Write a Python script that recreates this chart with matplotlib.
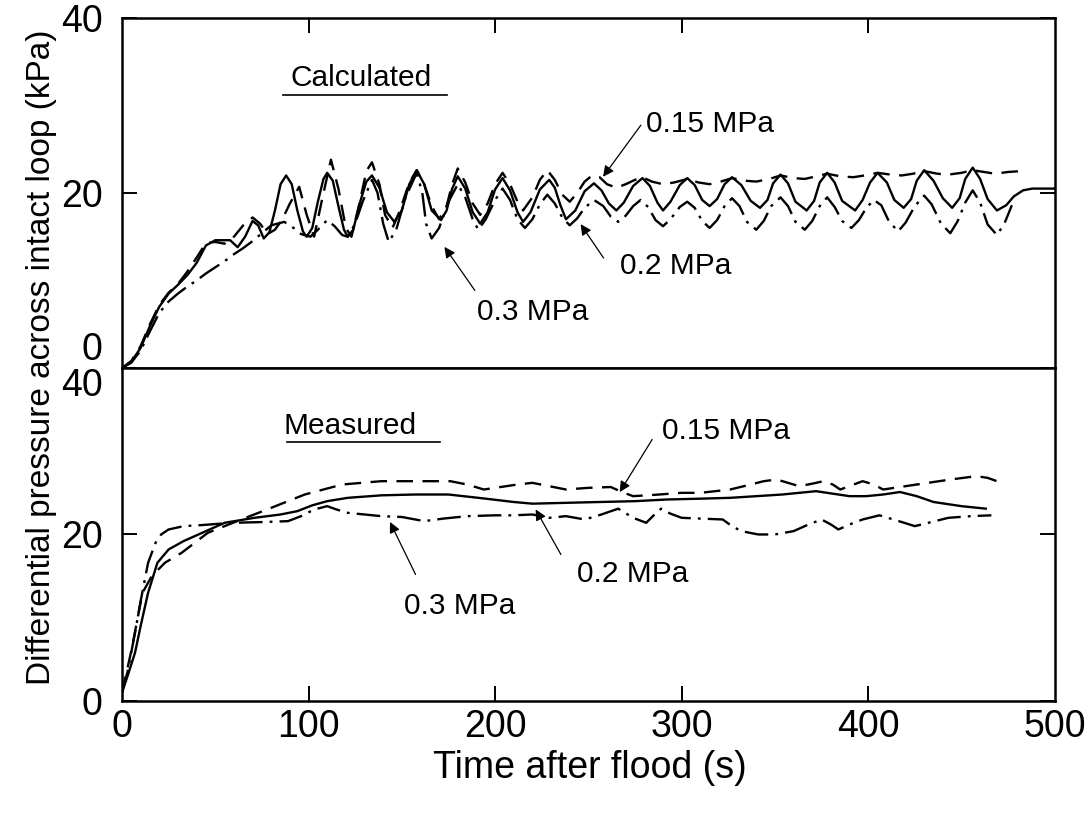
import matplotlib
matplotlib.use("Agg")
import matplotlib.pyplot as plt

plt.rcParams['font.family'] = ['Liberation Sans', 'DejaVu Sans']

# ---- Calculated (top panel) ----
calc_t_02 = [0, 5, 10, 15, 20, 25, 30, 35, 40, 45, 50, 58, 62, 66, 70, 73, 76, 79, 82, 85, 88, 91, 94, 97, 99,
             102, 105, 108, 110, 113, 116, 119, 121, 124, 127, 131, 134, 138, 142, 146, 150, 154, 158, 162, 166,
             171, 174, 177, 180, 184, 188, 192, 196, 200, 204, 208, 212, 215, 219, 224, 229, 232, 235, 238, 243,
             248, 253, 257, 261, 265, 269, 274, 279, 283, 287, 290, 294, 299, 303, 307, 311, 315, 319, 323, 327,
             332, 337, 342, 346, 349, 353, 357, 361, 367, 371, 374, 378, 382, 386, 393, 397, 401, 405, 410, 414,
             419, 423, 426, 430, 435, 440, 445, 449, 452, 456, 460, 464, 469, 474, 478, 483, 488, 500]
calc_v_02 = [0, 0.7, 2.3, 4.8, 7.0, 8.5, 9.5, 10.6, 12.0, 14.0, 14.6, 14.6, 13.8, 15.0, 16.8, 16.3, 14.8, 15.5, 18.0, 21.0, 22.0, 21.0, 18.0, 15.6, 15.0,
             16.0, 19.0, 21.6, 22.3, 21.4, 18.5, 15.8, 15.0, 15.8, 18.5, 21.3, 22.0, 20.6, 17.8, 16.7, 18.0, 21.0, 22.6, 21.0, 18.0,
             16.9, 18.0, 20.5, 21.9, 20.5, 17.8, 16.5, 17.8, 20.4, 21.7, 20.3, 17.8, 16.7, 17.8, 20.4, 21.5, 20.6, 18.6, 17.0, 18.0,
             20.2, 21.1, 20.3, 18.8, 18.0, 18.9, 20.8, 21.7, 20.8, 18.9, 18.0, 19.0, 20.9, 21.7, 20.9, 19.2, 18.5, 19.3, 21.0, 21.8,
             20.9, 19.1, 18.3, 19.2, 21.1, 22.1, 21.1, 19.0, 18.0, 19.1, 21.2, 22.3, 21.2, 19.1, 18.0, 19.2, 21.2, 22.3, 21.2, 19.2,
             18.3, 19.3, 21.4, 22.6, 21.4, 19.4, 18.3, 19.4, 21.6, 22.9, 21.6, 19.3, 18.0, 18.6, 19.6, 20.3, 20.5, 20.5]

calc_t_03 = [0, 5, 10, 15, 20, 25, 30, 35, 40, 45, 50, 55, 60, 65, 70, 75, 80, 87, 92, 96, 101, 105, 110, 114, 118,
             121, 125, 129, 134, 137, 140, 143, 147, 152, 158, 161, 163, 166, 170, 175, 180, 184, 188, 191, 195,
             200, 204, 208, 212, 216, 220, 224, 228, 232, 236, 240, 244, 248, 253, 258, 262, 266, 270, 274, 278,
             282, 286, 290, 294, 299, 303, 307, 311, 315, 319, 323, 327, 331, 335, 340, 344, 348, 353, 357, 361,
             366, 370, 374, 378, 382, 386, 391, 395, 399, 403, 407, 411, 416, 420, 425, 430, 434, 439, 444, 448,
             452, 456, 460, 464, 469, 473, 477]
calc_v_03 = [0, 0.6, 2.0, 4.2, 6.3, 7.6, 8.5, 9.3, 10.0, 10.8, 11.5, 12.2, 13.0, 13.7, 14.5, 15.4, 16.3, 16.7, 16.0, 15.3, 15.0, 15.8, 16.9, 16.2, 15.2,
             15.0, 16.5, 19.0, 21.5, 20.0, 16.5, 14.4, 15.8, 19.5, 22.3, 20.0, 16.5, 14.8, 16.0, 19.0, 21.0, 19.5, 17.0, 15.8, 17.0,
             19.2, 20.5, 19.2, 17.0, 16.0, 17.0, 18.7, 19.8, 18.8, 17.2, 16.3, 17.1, 18.3, 19.2, 18.5, 17.3, 16.7, 17.4, 18.5, 19.2,
             18.4, 16.9, 16.2, 17.0, 18.4, 19.0, 18.3, 16.8, 16.0, 16.9, 18.5, 19.4, 18.5, 16.7, 15.8, 16.8, 18.5, 19.5, 18.5, 16.7,
             15.8, 16.8, 18.5, 19.5, 18.4, 16.8, 16.0, 16.9, 18.3, 19.2, 18.6, 16.8, 15.6, 16.6, 18.5, 19.7, 18.7, 16.5, 15.4, 16.8,
             18.9, 20.3, 18.9, 16.4, 15.2, 16.5, 18.6]

calc_t_015 = [0, 5, 10, 15, 20, 25, 30, 35, 40, 45, 50, 55, 60, 65, 70, 74, 78, 82, 86, 90, 95, 99, 103, 107, 112,
              116, 120, 123, 127, 131, 134, 138, 141, 145, 149, 154, 158, 162, 166, 170, 174, 177, 180, 184, 188,
              192, 196, 200, 204, 208, 212, 215, 220, 224, 228, 232, 236, 240, 244, 248, 252, 256, 260, 265, 270,
              275, 279, 284, 290, 296, 303, 309, 315, 321, 327, 334, 340, 347, 353, 360, 366, 372, 378, 385, 392,
              398, 405, 412, 418, 424, 430, 437, 443, 450, 456, 462, 468, 475, 482]
calc_v_015 = [0, 0.8, 2.5, 5.0, 7.2, 8.6, 9.6, 11.0, 12.6, 14.3, 14.4, 14.2, 15.0, 16.3, 17.2, 16.5, 15.3, 15.8, 17.0, 18.8, 20.7, 17.5, 15.0, 19.0, 23.8,
              20.5, 16.0, 15.0, 18.5, 22.5, 23.5, 21.0, 17.5, 16.0, 18.0, 21.2, 22.6, 21.0, 18.5, 17.0, 18.5, 21.0, 22.8, 21.2, 18.8,
              17.5, 18.8, 21.0, 22.3, 21.0, 19.0, 18.0, 19.5, 21.5, 22.6, 21.5, 19.8, 19.0, 20.0, 21.3, 22.0, 21.8, 21.0, 20.6, 21.0,
              21.5, 21.8, 21.3, 21.0, 21.2, 21.6, 21.2, 21.0, 21.3, 21.7, 21.4, 21.3, 21.6, 22.0, 21.7, 21.6, 21.9, 22.2, 21.9, 21.8,
              22.0, 22.3, 22.1, 22.0, 22.2, 22.5, 22.2, 22.1, 22.3, 22.6, 22.4, 22.2, 22.4, 22.5]

# ---- Measured (bottom panel) ----
meas_t_02 = [0, 3, 7, 10, 14, 19, 25, 33, 41, 55, 71, 85, 94, 102, 110, 121, 139, 157, 175, 195, 210, 220, 238,
             256, 275, 292, 310, 326, 340, 354, 363, 372, 381, 390, 399, 408, 417, 426, 435, 450, 463]
meas_v_02 = [1.0, 3.0, 5.8, 9.0, 13.0, 16.6, 18.2, 19.2, 20.0, 21.4, 22.0, 22.4, 22.8, 23.5, 24.0, 24.4, 24.7, 24.8, 24.8, 24.3, 23.9, 23.7, 23.8,
             23.9, 24.0, 24.2, 24.3, 24.4, 24.6, 24.8, 25.0, 25.2, 24.9, 24.6, 24.6, 24.8, 25.1, 24.6, 23.9, 23.4, 23.1]

meas_t_03 = [0, 3, 7, 10, 14, 18, 21, 25, 33, 41, 59, 77, 89, 96, 103, 110, 115, 121, 130, 139, 150, 162, 172,
             185, 200, 210, 220, 229, 238, 248, 257, 266, 274, 281, 285, 289, 294, 300, 311, 322, 327, 332, 341,
             350, 355, 360, 368, 375, 380, 384, 390, 397, 406, 415, 425, 434, 443, 455, 466]
meas_v_03 = [1.0, 3.5, 8.2, 12.0, 16.6, 19.0, 20.0, 20.6, 21.0, 21.1, 21.4, 21.5, 21.6, 22.2, 23.0, 23.4, 23.0, 22.6, 22.4, 22.2, 22.1, 21.6, 21.9,
             22.2, 22.3, 22.3, 22.4, 22.0, 22.2, 21.8, 22.4, 23.1, 22.0, 21.4, 22.3, 23.1, 22.5, 22.0, 21.9, 21.8, 21.0, 20.4, 20.0,
             20.0, 20.2, 20.4, 21.2, 21.8, 21.2, 20.6, 21.2, 21.8, 22.3, 21.7, 21.0, 21.5, 22.0, 22.2, 22.3]

meas_t_015 = [0, 5, 11, 16, 23, 32, 46, 64, 80, 98, 118, 139, 153, 167, 176, 185, 194, 203, 212, 220, 229, 238,
              250, 262, 268, 274, 281, 288, 300, 310, 318, 326, 337, 344, 351, 357, 363, 370, 376, 381, 385, 391,
              397, 403, 408, 417, 426, 435, 444, 451, 458, 464, 469]
meas_v_015 = [1.0, 6.0, 13.0, 15.0, 16.6, 17.8, 20.2, 21.8, 23.2, 24.8, 26.0, 26.4, 26.4, 26.4, 26.4, 26.0, 25.4, 25.7, 26.0, 26.2, 25.8, 25.4,
              25.6, 25.7, 25.1, 24.6, 24.7, 24.8, 25.0, 25.0, 25.2, 25.4, 26.0, 26.4, 26.6, 26.2, 25.8, 26.1, 26.4, 26.0, 25.4, 25.9,
              26.4, 26.0, 25.4, 25.7, 26.0, 26.3, 26.6, 26.8, 27.0, 26.8, 26.4]

x_ticks = [0, 100, 200, 300, 400, 500]
y_ticks = [0, 20, 40]

# label text, label position, arrow tip, arrow tail
calc_labels = [("0.15 MPa", (315, 27.9), (257, 21.6), (279, 28.0)),
               ("0.2 MPa", (297, 11.7), (245, 16.7), (259, 12.3)),
               ("0.3 MPa", (220, 6.4), (172, 14.1), (190, 8.6))]
meas_labels = [("0.15 MPa", (324, 32.4), (266, 24.8), (285, 31.7)),
               ("0.2 MPa", (274, 15.2), (221, 23.3), (236, 17.3)),
               ("0.3 MPa", (181, 11.4), (143, 21.8), (158, 14.9))]

solid = '-'
dashed = (0, (7, 4))
dashdot = (0, (10, 3, 1.2, 3))
lw = 1.7

fig = plt.figure(figsize=(10.91, 8.13), dpi=100)
ax1 = fig.add_axes([0.1118, 0.5474, 0.855, 0.4305])
ax2 = fig.add_axes([0.1118, 0.1378, 0.855, 0.4096])

ax1.plot(calc_t_015, calc_v_015, color='black', lw=lw, linestyle=dashed)
ax1.plot(calc_t_02, calc_v_02, color='black', lw=lw, linestyle=solid)
ax1.plot(calc_t_03, calc_v_03, color='black', lw=lw, linestyle=dashdot)

ax2.plot(meas_t_015, meas_v_015, color='black', lw=lw, linestyle=dashed)
ax2.plot(meas_t_02, meas_v_02, color='black', lw=lw, linestyle=solid)
ax2.plot(meas_t_03, meas_v_03, color='black', lw=lw, linestyle=dashdot)

for ax, labels in [(ax1, calc_labels), (ax2, meas_labels)]:
    ax.set_xlim(0, 500)
    ax.set_ylim(0, 40)
    for s in ax.spines.values():
        s.set_linewidth(1.8)
    ax.set_yticks(y_ticks)
    ax.set_xticks(x_ticks[1:-1])
    ax.tick_params(axis='both', direction='in', length=11, width=1.4, labelsize=27, pad=14)
    ax.tick_params(axis='y', right=True)
    for txt, pos, tip, tail in labels:
        ax.text(pos[0], pos[1], txt, fontsize=21.5, ha='center', va='center')
        ax.annotate('', xy=tip, xytext=tail,
                    arrowprops=dict(arrowstyle='-|>', lw=0.9, color='black', mutation_scale=16))

# top panel: ticks on top edge, no x labels
ax1.tick_params(axis='x', top=True, bottom=False, labelbottom=False)
ax1.set_yticklabels(['0', '20', '40'])
ax1.get_yticklabels()[0].set_va('bottom')

# bottom panel
ax2.set_xticks(x_ticks)
ax2.set_xticklabels([str(v) for v in x_ticks])
ax2.tick_params(axis='x', pad=6)
ax2.set_yticklabels(['0', '20', '40'])
ax2.get_yticklabels()[2].set_va('top')
for tl in ax2.xaxis.get_major_ticks():
    if tl.get_loc() in (0, 500):
        tl.tick1line.set_visible(False)

ax1.text(0.256, 0.829, 'Calculated', transform=ax1.transAxes, fontsize=21.5, ha='center', va='center')
ax1.plot([0.173, 0.348], [0.78, 0.78], transform=ax1.transAxes, color='black', lw=1.2)
ax2.text(0.245, 0.825, 'Measured', transform=ax2.transAxes, fontsize=21.5, ha='center', va='center')
ax2.plot([0.177, 0.341], [0.777, 0.777], transform=ax2.transAxes, color='black', lw=1.2)

fig.text(42 / 1091, 1 - 357 / 813, 'Differential pressure across intact loop (kPa)',
         rotation=90, fontsize=24, ha='center', va='center')
fig.text(590 / 1091, 1 - 768 / 813, 'Time after flood (s)', fontsize=27, ha='center', va='center')

fig.savefig('out.png', dpi=100)
